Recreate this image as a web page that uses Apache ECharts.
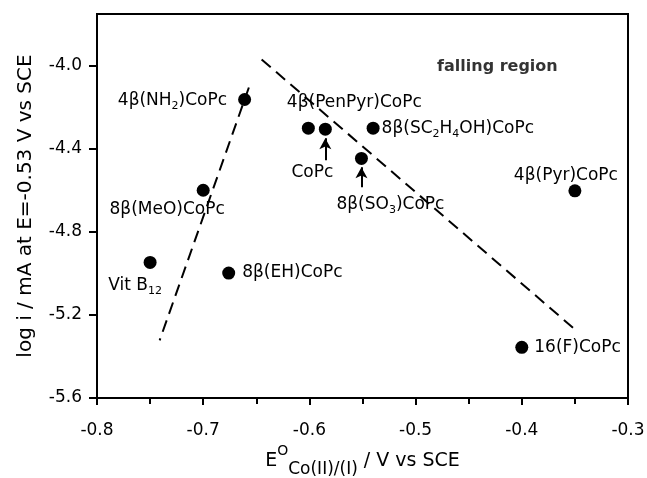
<!DOCTYPE html>
<html><head><meta charset="utf-8">
<script src="https://cdn.jsdelivr.net/npm/echarts@6/dist/echarts.min.js"></script>
<style>html,body{margin:0;padding:0;background:#fff}#c{width:647px;height:478px}</style>
</head><body><div id="c"></div>
<script>
// ---- data ----
const compounds = ['4β(NH{s|2})CoPc','4β(PenPyr)CoPc','CoPc','8β(SC{s|2}H{s|4}OH)CoPc','8β(SO{s|3})CoPc','4β(Pyr)CoPc','8β(MeO)CoPc','Vit B{s|12}','8β(EH)CoPc','16(F)CoPc'];
const potentials  = [-0.661,-0.601,-0.585,-0.540,-0.551,-0.350,-0.700,-0.750,-0.676,-0.400];
const logCurrents = [-4.162,-4.300,-4.305,-4.300,-4.446,-4.602,-4.599,-4.947,-4.998,-5.356];
const risingLineX  = [-0.657,-0.741];
const risingLineY  = [-4.104,-5.322];
const fallingLineX = [-0.645,-0.351];
const fallingLineY = [-3.969,-5.265];
const arrowX     = [-0.585,-0.551];
const arrowFromY = [-4.454,-4.585];
const arrowToY   = [-4.348,-4.488];
const regionText = 'falling region';
const regionX = -0.423, regionY = -4.005;
const xMin = -0.8, xMax = -0.3, xStep = 0.1;
const yMin = -5.6, yMax = -3.75, yStep = 0.4;
const yTitle = 'log i / mA at E=-0.53 V vs SCE';

// ---- styling ----
const FONT = 'DejaVu Sans';
const labelLayout = [
  {position:'left', distance:11, offset:[0,1]},
  {position:'inside', offset:[46,-26]},
  {position:'inside', offset:[-13,43]},
  {position:'right', distance:2},
  {position:'inside', offset:[29,46]},
  {position:'inside', offset:[-9,-15]},
  {position:'inside', offset:[-36,19]},
  {position:'inside', offset:[-15,23]},
  {position:'right', distance:7},
  {position:'right', distance:6}
];
const subRich = { s: { fontFamily: FONT, fontSize: 11, lineHeight: 22, verticalAlign: 'bottom', color: '#000' } };

const points = potentials.map((x, i) => ({
  value: [x, logCurrents[i]],
  label: Object.assign({ show: true, color: '#000', formatter: compounds[i] }, labelLayout[i])
}));

const chart = echarts.init(document.getElementById('c'), null, { renderer: 'canvas' });
chart.setOption({
  animation: false,
  backgroundColor: '#fff',
  grid: { left: 97, right: 19, top: 14, bottom: 80, show: true, borderColor: '#000', borderWidth: 2,
          containLabel: false, outerBoundsMode: 'none' },
  xAxis: {
    type: 'value', min: xMin, max: xMax, interval: xStep,
    axisLine: { show: true, onZero: false, lineStyle: { color: '#000', width: 2 } },
    axisTick: { show: true, inside: false, length: 7, lineStyle: { color: '#000', width: 2 } },
    minorTick: { show: true, splitNumber: 2, length: 6, lineStyle: { color: '#000', width: 2 } },
    splitLine: { show: false },
    axisLabel: { margin: 24, fontFamily: FONT, fontSize: 17, color: '#000', formatter: v => v.toFixed(1) },
    name: '{a|E}{sup|O}{sub|Co(II)/(I)}{a| / V vs SCE}',
    nameLocation: 'middle', nameGap: 46,
    nameTextStyle: {
      rich: {
        a: { fontFamily: FONT, fontSize: 19, color: '#000', lineHeight: 34, verticalAlign: 'middle' },
        sup: { fontFamily: FONT, fontSize: 14, color: '#000', lineHeight: 34, verticalAlign: 'top' },
        sub: { fontFamily: FONT, fontSize: 17, color: '#000', lineHeight: 34, verticalAlign: 'bottom' }
      }
    }
  },
  yAxis: {
    type: 'value', min: yMin, max: yMax, interval: yStep,
    axisLine: { show: true, onZero: false, lineStyle: { color: '#000', width: 2 } },
    axisTick: { show: true, inside: false, length: 8, lineStyle: { color: '#000', width: 2 } },
    splitLine: { show: false },
    axisLabel: { margin: 15, fontFamily: FONT, fontSize: 17, color: '#000', showMaxLabel: false, formatter: v => v.toFixed(1) },
    name: yTitle, nameLocation: 'middle', nameGap: 61,
    nameTextStyle: { fontFamily: FONT, fontSize: 20, color: '#000' }
  },
  series: [
    {
      type: 'line', data: risingLineX.map((x, i) => [x, risingLineY[i]]),
      symbol: 'none', silent: true,
      lineStyle: { color: '#000', width: 2, type: [12, 7] }
    },
    {
      type: 'line', data: fallingLineX.map((x, i) => [x, fallingLineY[i]]),
      symbol: 'none', silent: true,
      lineStyle: { color: '#000', width: 2, type: [12, 7] }
    },
    {
      type: 'scatter', symbol: 'circle', symbolSize: 13,
      itemStyle: { color: '#000', opacity: 1 },
      label: { fontFamily: FONT, fontSize: 17, color: '#000', lineHeight: 22, rich: subRich },
      emphasis: { disabled: true },
      data: points,
      markLine: {
        silent: true, symbol: ['none', 'arrow'], symbolSize: [9, 11],
        lineStyle: { color: '#000', width: 2, type: 'solid', opacity: 1 },
        label: { show: false },
        data: arrowX.map((x, i) => [{ coord: [x, arrowFromY[i]] }, { coord: [x, arrowToY[i]] }])
      }
    },
    {
      type: 'scatter', symbolSize: 0, silent: true,
      data: [[regionX, regionY]],
      label: { show: true, position: 'inside', formatter: regionText, fontFamily: FONT, fontWeight: 'bold', fontSize: 16, color: '#000' }
    }
  ]
});
</script></body></html>
